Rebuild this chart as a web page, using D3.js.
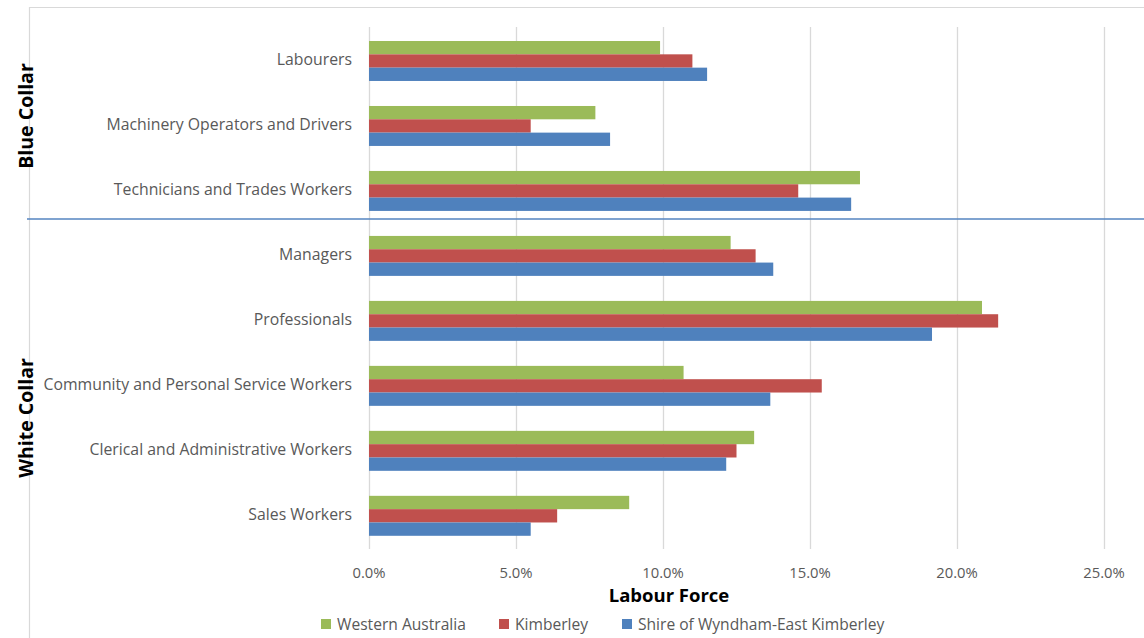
<!DOCTYPE html>
<html>
<head>
<meta charset="utf-8">
<script src="https://cdn.jsdelivr.net/npm/d3@7"></script>
<style>
  html, body { margin: 0; padding: 0; background: #fff; }
  svg { display: block; font-family: "Open Sans", Lato, sans-serif; }
</style>
</head>
<body>
<svg id="chart" width="1144" height="638"></svg>
<script>
// Occupation categories, top to bottom
const categories = [
  "Labourers",
  "Machinery Operators and Drivers",
  "Technicians and Trades Workers",
  "Managers",
  "Professionals",
  "Community and Personal Service Workers",
  "Clerical and Administrative Workers",
  "Sales Workers"
];

// Share of labour force (%) per region
const seriesNames = ["Western Australia", "Kimberley", "Shire of Wyndham-East Kimberley"];
const westernAustralia = [9.9, 7.7, 16.7, 12.3, 20.85, 10.7, 13.1, 8.85];
const kimberley        = [11.0, 5.5, 14.6, 13.15, 21.4, 15.4, 12.5, 6.4];
const wyndhamEK        = [11.5, 8.2, 16.4, 13.75, 19.15, 13.65, 12.15, 5.5];

const tickValues = [0, 5, 10, 15, 20, 25];
const groups = [
  { name: "Blue Collar", members: categories.slice(0, 3) },
  { name: "White Collar", members: categories.slice(3) }
];

const colors = ["#9BBB59", "#C0504D", "#4F81BD"];
const seriesValues = [westernAustralia, kimberley, wyndhamEK];

const svg = d3.select("#chart");

// Outer chart frame (top and left edges visible)
svg.append("line").attr("x1", 29).attr("x2", 1144).attr("y1", 7.5).attr("y2", 7.5)
  .attr("stroke", "#d9d9d9").attr("stroke-width", 1.2);
svg.append("line").attr("x1", 29.5).attr("x2", 29.5).attr("y1", 7).attr("y2", 638)
  .attr("stroke", "#d9d9d9").attr("stroke-width", 1.2);

const x = d3.scaleLinear().domain([0, 25]).range([369, 1104]);
const y = d3.scaleBand().domain(categories).range([28.5, 548.3])
  .paddingInner(0.385).paddingOuter(0.1925);
const ySub = d3.scaleBand().domain(seriesNames).range([0, y.bandwidth()]);

// Vertical gridlines
svg.append("g").selectAll("line").data(tickValues).join("line")
  .attr("x1", d => Math.round(x(d)) + 0.5).attr("x2", d => Math.round(x(d)) + 0.5)
  .attr("y1", 27).attr("y2", 549)
  .attr("stroke", "#d9d9d9").attr("stroke-width", 1.3);

// Tick labels
svg.append("g").selectAll("text").data(tickValues).join("text")
  .attr("x", d => x(d)).attr("y", 572)
  .attr("text-anchor", "middle").attr("dominant-baseline", "central")
  .attr("fill", "#595959").attr("font-size", 14.8)
  .text(d => d3.format(".1f")(d) + "%");

// Bars
const rows = categories.map((c, i) => ({ category: c, values: seriesNames.map((s, k) => ({ series: s, k, value: seriesValues[k][i] })) }));
const g = svg.append("g").selectAll("g").data(rows).join("g")
  .attr("transform", d => `translate(0,${y(d.category)})`);
g.selectAll("rect").data(d => d.values).join("rect")
  .attr("x", x(0))
  .attr("y", d => ySub(d.series))
  .attr("width", d => x(d.value) - x(0))
  .attr("height", ySub.bandwidth())
  .attr("fill", d => colors[d.k]);

// Category labels
svg.append("g").selectAll("text").data(categories).join("text")
  .attr("x", 352).attr("y", d => y(d) + y.bandwidth() / 2 - 2)
  .attr("text-anchor", "end").attr("dominant-baseline", "central")
  .attr("fill", "#595959").attr("font-size", 15.8)
  .text(d => d);

// Divider between collar groups
const split = y(groups[0].members[2]) + y.bandwidth() + 8;
svg.append("line").attr("x1", 27).attr("x2", 1144).attr("y1", split).attr("y2", split)
  .attr("stroke", "#5585C0").attr("stroke-width", 1.5);

// Group labels (rotated)
const groupCenters = [116, 418];
groups.forEach((gr, i) => {
  svg.append("text")
    .attr("transform", `translate(25,${groupCenters[i]}) rotate(-90)`)
    .attr("text-anchor", "middle").attr("dominant-baseline", "central")
    .attr("font-weight", "bold").attr("font-size", 19.5).attr("fill", "#000")
    .text(gr.name);
});

// Axis title
svg.append("text").attr("x", 669).attr("y", 594)
  .attr("text-anchor", "middle").attr("dominant-baseline", "central")
  .attr("font-weight", "bold").attr("font-size", 18.5).attr("fill", "#000")
  .text("Labour Force");

// Legend
const legendX = [321, 499, 622];
const lg = svg.append("g").selectAll("g").data(seriesNames).join("g")
  .attr("transform", (d, i) => `translate(${legendX[i]},624)`);
lg.append("rect").attr("x", 0).attr("y", -5).attr("width", 10).attr("height", 10)
  .attr("fill", (d, i) => colors[i]);
lg.append("text").attr("x", 16).attr("y", 0).attr("dominant-baseline", "central")
  .attr("fill", "#595959").attr("font-size", 15.6).text(d => d);
</script>
</body>
</html>
